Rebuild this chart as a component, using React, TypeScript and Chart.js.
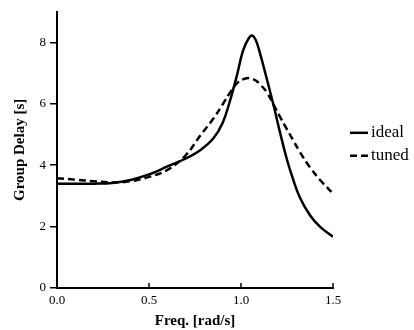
import React, { useEffect, useRef } from "react";
import { Chart, registerables } from "chart.js";

Chart.register(...registerables);

// Frequency samples (rad/s)
const freq = [0, 0.1, 0.2, 0.3, 0.4, 0.5, 0.6, 0.7, 0.78, 0.85, 0.9, 0.94, 0.98, 1.01, 1.04, 1.06, 1.08, 1.1, 1.14, 1.18, 1.21, 1.25, 1.28, 1.32, 1.375, 1.43, 1.5];
// Group delay (s)
const ideal = [3.4, 3.4, 3.4, 3.42, 3.52, 3.7, 3.96, 4.22, 4.5, 4.88, 5.38, 6.1, 6.98, 7.72, 8.12, 8.23, 8.08, 7.72, 6.82, 5.88, 5.12, 4.18, 3.6, 2.95, 2.37, 1.99, 1.67];
const tuned = [3.58, 3.53, 3.48, 3.44, 3.48, 3.62, 3.85, 4.33, 4.98, 5.52, 5.98, 6.36, 6.68, 6.8, 6.84, 6.82, 6.76, 6.66, 6.38, 5.94, 5.6, 5.17, 4.85, 4.43, 3.93, 3.52, 3.08];

const seriesNames = ["ideal", "tuned"];
const xTicks = [0, 0.5, 1.0, 1.5];
const yTicks = [0, 2, 4, 6, 8];
const xTitle = "Freq. [rad/s]";
const yTitle = "Group Delay [s]";

const SERIF = "'Liberation Serif', 'Times New Roman', serif";

const sideLegend = {
  id: "sideLegend",
  afterDraw(chart: any) {
    const { ctx, chartArea } = chart;
    const x0 = chartArea.right + 17;
    chart.data.datasets.forEach((ds: any, i: number) => {
      const y = chartArea.top + 121 + i * 23;
      ctx.save();
      ctx.strokeStyle = ds.borderColor;
      ctx.lineWidth = ds.borderWidth;
      ctx.setLineDash(ds.borderDash || []);
      ctx.beginPath();
      ctx.moveTo(x0, y);
      ctx.lineTo(x0 + 18, y);
      ctx.stroke();
      ctx.setLineDash([]);
      ctx.fillStyle = "#000";
      ctx.font = `17px ${SERIF}`;
      ctx.textBaseline = "middle";
      ctx.textAlign = "left";
      ctx.fillText(ds.label, x0 + 21, y);
      ctx.restore();
    });
  },
};

const inwardXTicks = {
  id: "inwardXTicks",
  afterDraw(chart: any) {
    const { ctx } = chart;
    const xs = chart.scales.x;
    ctx.save();
    ctx.strokeStyle = "#000";
    ctx.lineWidth = 1.5;
    xs.ticks.forEach((t: any) => {
      const px = xs.getPixelForValue(t.value);
      ctx.beginPath();
      ctx.moveTo(px, xs.top);
      ctx.lineTo(px, xs.top - 5);
      ctx.stroke();
    });
    ctx.restore();
  },
};

export default function App() {
  const ref = useRef<HTMLCanvasElement | null>(null);

  useEffect(() => {
    if (!ref.current) return;
    const chart = new Chart(ref.current, {
      type: "line",
      data: {
        datasets: [
          {
            label: seriesNames[0],
            data: freq.map((f, i) => ({ x: f, y: ideal[i] })),
            borderColor: "#000",
            borderWidth: 2.5,
            pointRadius: 0,
            tension: 0.4,
            fill: false,
          },
          {
            label: seriesNames[1],
            data: freq.map((f, i) => ({ x: f, y: tuned[i] })),
            borderColor: "#000",
            borderWidth: 2.5,
            borderDash: [7, 4],
            pointRadius: 0,
            tension: 0.4,
            fill: false,
          },
        ],
      },
      options: {
        responsive: false,
        animation: false,
        devicePixelRatio: 1,
        layout: { padding: { left: 0, top: 11, right: 81, bottom: 0 } },
        plugins: {
          legend: { display: false },
          tooltip: { enabled: false },
        },
        scales: {
          x: {
            type: "linear",
            min: 0,
            max: 1.5,
            afterBuildTicks: (s: any) => {
              s.ticks = xTicks.map((v) => ({ value: v }));
            },
            afterFit: (s: any) => {
              s.height = 42;
            },
            ticks: {
              color: "#000",
              font: { family: SERIF, size: 13 },
              padding: 5,
              maxRotation: 0,
              callback: (v: any) => Number(v).toFixed(1),
            },
            grid: { display: true, drawOnChartArea: false, drawTicks: false, color: "#000" },
            border: { display: true, color: "#000", width: 2 },
            title: {
              display: true,
              text: xTitle,
              color: "#000",
              font: { family: SERIF, size: 15, weight: "bold" },
              padding: { top: 0, bottom: 0 },
            },
          },
          y: {
            type: "linear",
            min: 0,
            max: 9,
            afterBuildTicks: (s: any) => {
              s.ticks = yTicks.map((v) => ({ value: v }));
            },
            afterFit: (s: any) => {
              s.width = 57;
            },
            ticks: {
              color: "#000",
              font: { family: SERIF, size: 13 },
              padding: 4,
              callback: (v: any) => String(v),
            },
            grid: { display: true, drawOnChartArea: false, drawTicks: true, tickLength: 7, color: "#000", lineWidth: 1.5 },
            border: { display: true, color: "#000", width: 2 },
            title: {
              display: true,
              text: yTitle,
              color: "#000",
              font: { family: SERIF, size: 15, weight: "bold" },
              padding: { top: 11, bottom: 0 },
            },
          },
        },
      },
      plugins: [sideLegend, inwardXTicks],
    });
    return () => chart.destroy();
  }, []);

  return (
    <div style={{ position: "absolute", left: 0, top: 0, width: 414, height: 330, background: "#fff" }}>
      <canvas ref={ref} width={414} height={330} />
    </div>
  );
}
